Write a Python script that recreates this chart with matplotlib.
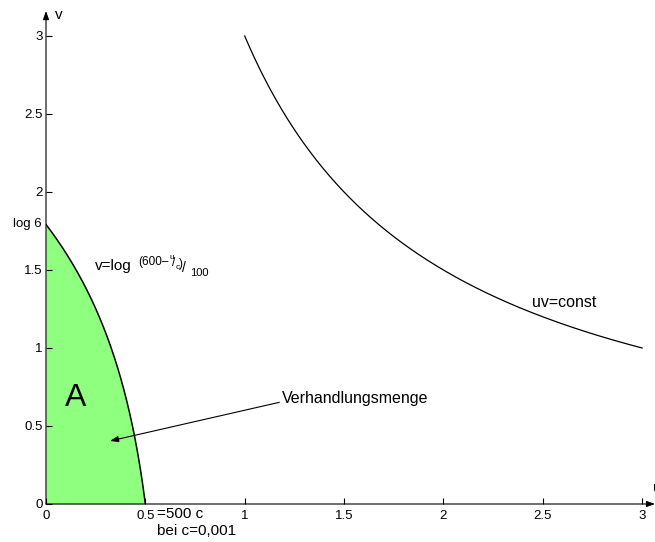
import numpy as np
import matplotlib.pyplot as plt

plt.rcParams['font.family'] = ['Liberation Sans', 'DejaVu Sans']

# Verhandlungsmenge: v = ln((600 - u/c)/100), c = 0.001
C = 0.001
U_MAX = 0.5
# uv = const
UV_CONST = 3.0
UV_START, UV_END = 1.0, 3.0

X_TICKS = [0, 0.5, 1, 1.5, 2, 2.5, 3]
X_TICKLABELS = ['0', '0.5', '1', '1.5', '2', '2.5', '3']
Y_TICKS = [0, 0.5, 1, 1.5, 2, 2.5, 3]
Y_TICKLABELS = ['0', '0.5', '1', '1.5', '2', '2.5', '3']

GREEN = '#8fff80'
BLACK = '#000000'
ARROW = '-|>,head_length=0.5,head_width=0.18'

fig = plt.figure(figsize=(6.55, 5.42), dpi=100)
ax = fig.add_axes([46 / 655, 38 / 542, 609 / 655, 504 / 542])
ax.set_xlim(0, 609 / 198.7)
ax.set_ylim(0, 504 / 156.0)
for s in ax.spines.values():
    s.set_visible(False)

u = np.linspace(0, U_MAX, 300)
v = np.log((600 - u / C) / 100)
ax.fill_between(u, 0, v, color=GREEN, lw=0)
ax.plot(u, v, color=BLACK, lw=1.1)

u2 = np.linspace(UV_START, UV_END, 300)
ax.plot(u2, UV_CONST / u2, color=BLACK, lw=0.9)

# axes with arrow heads
ax.annotate('', xy=(3.065, 0), xytext=(0, 0), annotation_clip=False,
            arrowprops=dict(arrowstyle=ARROW, color=BLACK, lw=0.8,
                            mutation_scale=10, shrinkA=0, shrinkB=0))
ax.annotate('', xy=(0, 3.16), xytext=(0, 0), annotation_clip=False,
            arrowprops=dict(arrowstyle=ARROW, color=BLACK, lw=0.8,
                            mutation_scale=10, shrinkA=0, shrinkB=0))

ax.set_xticks(X_TICKS)
ax.set_xticklabels(X_TICKLABELS)
ax.set_yticks(Y_TICKS)
ax.set_yticklabels(Y_TICKLABELS)
ax.tick_params(axis='x', direction='in', length=4.5, width=0.8, labelsize=9.5, pad=4.5)
ax.tick_params(axis='y', direction='in', length=4.5, width=0.8, labelsize=9.5, pad=2.2)

ax.text(-0.02, np.log(6), 'log 6', ha='right', va='center', fontsize=9.5)
ax.text(0.045, 3.135, 'v', ha='left', va='center', fontsize=11)
ax.text(3.055, 0.10, 'u', ha='left', va='center', fontsize=11, clip_on=False)

ax.text(0.149, 0.68, 'A', ha='center', va='center', fontsize=23)

# v = log ((600 - u/c)/100), set piece by piece
formula = [
    ('v=log', 0.2466, 1.526, 11),
    ('(600–', 0.463, 1.553, 8.5),
    ('u', 0.622, 1.582, 6),
    ('/', 0.636, 1.542, 8.5),
    ('c', 0.652, 1.514, 6),
    (')', 0.668, 1.538, 8.5),
    ('/', 0.685, 1.510, 10),
    ('100', 0.725, 1.478, 8),
]
for txt, x, y, fs in formula:
    ax.text(x, y, txt, ha='left', va='center', fontsize=fs)

ax.text(2.446, 1.29, 'uv=const', ha='left', va='center', fontsize=11.5)
ax.text(0.559, -0.064, '=500 c', ha='left', va='center', fontsize=11)
ax.text(0.559, -0.173, 'bei c=0,001', ha='left', va='center', fontsize=11)

ax.annotate('Verhandlungsmenge', xy=(0.322, 0.404), xytext=(1.188, 0.675),
            ha='left', va='center', fontsize=11.5,
            arrowprops=dict(arrowstyle=ARROW, color=BLACK, lw=0.8,
                            mutation_scale=10, shrinkA=0, shrinkB=0,
                            relpos=(0, 0.3)))

fig.savefig('out.png', dpi=100)
